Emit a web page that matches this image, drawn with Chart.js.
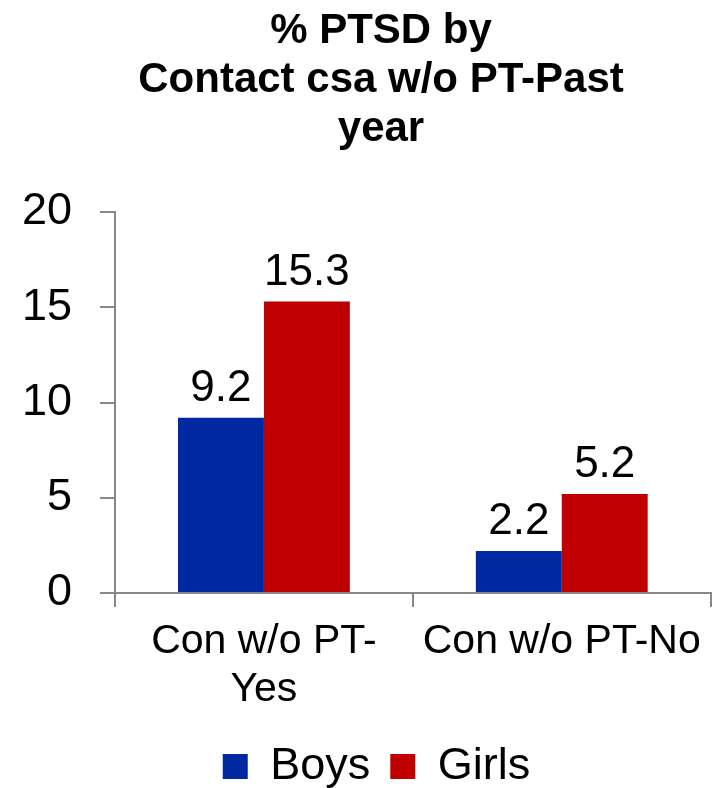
<!DOCTYPE html>
<html>
<head>
<meta charset="utf-8">
<script src="https://cdn.jsdelivr.net/npm/chart.js@4/dist/chart.umd.min.js"></script>
<style>
  html, body { margin: 0; padding: 0; background: #fff; }
  #wrap { width: 712px; height: 788px; }
</style>
</head>
<body>
<div id="wrap"><canvas id="ptsdChart" width="712" height="788"></canvas></div>
<script>
// data
const titleLines = ['% PTSD by', 'Contact csa w/o PT-Past', 'year'];
const categories = [['Con w/o PT-', 'Yes'], 'Con w/o PT-No'];
const boysValues = [9.2, 2.2];
const girlsValues = [15.3, 5.2];
const yTicks = [0, 5, 10, 15, 20];

const FONT = '"Liberation Sans", Arial, sans-serif';

// title drawn by hand so it can sit a bit left of the plot centre
const titlePlugin = {
  id: 'titleLines',
  afterDraw(chart) {
    const ctx = chart.ctx;
    ctx.save();
    ctx.fillStyle = '#000';
    ctx.font = 'bold 42px ' + FONT;
    ctx.textAlign = 'center';
    ctx.textBaseline = 'middle';
    titleLines.forEach((line, i) => {
      ctx.fillText(line, 381, 31 + i * 49);
    });
    ctx.restore();
  }
};

// value labels above each bar
const valueLabels = {
  id: 'valueLabels',
  afterDatasetsDraw(chart) {
    const ctx = chart.ctx;
    ctx.save();
    ctx.fillStyle = '#000';
    ctx.font = '44px ' + FONT;
    ctx.textAlign = 'center';
    ctx.textBaseline = 'alphabetic';
    chart.data.datasets.forEach((ds, i) => {
      chart.getDatasetMeta(i).data.forEach((bar, j) => {
        ctx.fillText(ds.data[j].toFixed(1), bar.x, bar.y - 17);
      });
    });
    ctx.restore();
  }
};

// nudge the legend a little right and down, like the original
const legendShift = {
  id: 'legendShift',
  afterLayout(chart) {
    const lg = chart.legend;
    if (!lg) return;
    lg.left += 21; lg.right += 21;
    lg.top += 13; lg.bottom += 13;
  }
};

new Chart(document.getElementById('ptsdChart').getContext('2d'), {
  type: 'bar',
  data: {
    labels: categories,
    datasets: [{
      label: 'Boys',
      data: boysValues,
      backgroundColor: '#0028A0',
      borderWidth: 0
    }, {
      label: 'Girls',
      data: girlsValues,
      backgroundColor: '#C00000',
      borderWidth: 0
    }]
  },
  options: {
    responsive: false,
    animation: false,
    devicePixelRatio: 1,
    layout: {
      padding: { top: 212, right: 1, left: 0, bottom: 2 }
    },
    datasets: {
      bar: { barPercentage: 1, categoryPercentage: 0.577 }
    },
    scales: {
      y: {
        min: 0,
        max: 20,
        afterBuildTicks(scale) {
          scale.ticks = yTicks.map(v => ({ value: v }));
        },
        afterFit(scale) { scale.width = 115; },
        border: { color: '#888', width: 2 },
        grid: { drawOnChartArea: false, color: '#888', lineWidth: 2, tickLength: 15 },
        ticks: { color: '#000', font: { family: FONT, size: 45 }, padding: 28 }
      },
      x: {
        afterFit(scale) { scale.height = 118; },
        border: { color: '#888', width: 2 },
        grid: { drawOnChartArea: false, color: '#888', lineWidth: 2, tickLength: 14, offset: true },
        ticks: { color: '#000', font: { family: FONT, size: 41, lineHeight: 1.17 }, padding: 11, maxRotation: 0 }
      }
    },
    plugins: {
      title: { display: false },
      tooltip: { enabled: false },
      legend: {
        position: 'bottom',
        labels: {
          color: '#000',
          font: { family: FONT, size: 45 },
          boxWidth: 25,
          boxHeight: 25,
          padding: 20
        }
      }
    }
  },
  plugins: [titlePlugin, valueLabels, legendShift]
});
</script>
</body>
</html>
